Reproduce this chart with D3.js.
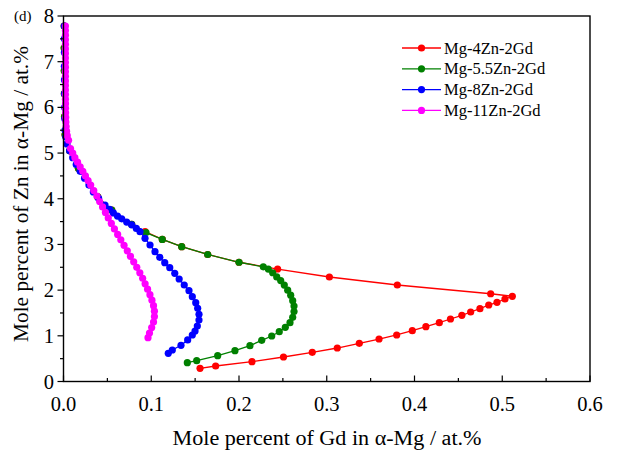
<!DOCTYPE html>
<html><head><meta charset="utf-8">
<script src="https://cdn.jsdelivr.net/npm/d3@7"></script>
<style>body{margin:0;background:#fff}svg{display:block}</style>
</head><body><svg id="c" width="617" height="452" font-family="'Liberation Serif', Tinos, 'Times New Roman', Times, 'DejaVu Serif', serif"></svg>
<script>
const seriesNames = ["Mg-4Zn-2Gd","Mg-5.5Zn-2Gd","Mg-8Zn-2Gd","Mg-11Zn-2Gd"];
const seriesColors = ["#ff0000","#008000","#0000ff","#ff00ff"];
const xTicks = [0,0.1,0.2,0.3,0.4,0.5,0.6];
const yTicks = [0,1,2,3,4,5,6,7,8];

const red_gd = [0.0008,0.0008,0.0009,0.001,0.0012,0.0018,0.007,0.017,0.039,0.055,0.0777,0.093,0.1126,0.1347,0.1643,0.2,0.244,0.303,0.3804,0.4868,0.5115,0.5031,0.494,0.4846,0.4746,0.464,0.454,0.441,0.4283,0.413,0.3975,0.3797,0.3596,0.3371,0.312,0.2835,0.2507,0.2148,0.1734,0.1556];
const red_zn = [7.78,7.3,6.8,6.3,5.8,5.4,5.05,4.67,4.04,3.75,3.44,3.28,3.11,2.95,2.78,2.61,2.462,2.287,2.112,1.921,1.865,1.806,1.733,1.674,1.593,1.521,1.449,1.368,1.287,1.199,1.112,1.018,0.930,0.836,0.733,0.639,0.536,0.433,0.339,0.289];

const green_gd = [0.0008,0.0008,0.0009,0.001,0.0012,0.0018,0.007,0.017,0.039,0.055,0.0777,0.094,0.1126,0.1347,0.1643,0.2,0.2277,0.2334,0.2384,0.243,0.2475,0.2516,0.2555,0.2589,0.2612,0.2627,0.2627,0.2612,0.2581,0.2528,0.2459,0.2373,0.2259,0.2125,0.1954,0.1757,0.1518,0.1411];
const green_zn = [7.78,7.3,6.8,6.3,5.8,5.4,5.05,4.67,4.04,3.75,3.44,3.26,3.11,2.95,2.78,2.61,2.51,2.46,2.38,2.29,2.21,2.11,2.0,1.89,1.77,1.65,1.53,1.405,1.287,1.186,1.09,0.996,0.902,0.784,0.674,0.565,0.455,0.411];

const blue_gd = [0.001,0.001,0.001,0.001,0.0011,0.0012,0.0013,0.0015,0.0018,0.0026,0.004,0.007,0.0105,0.0145,0.019,0.024,0.029,0.034,0.04,0.0473,0.0525,0.0568,0.0615,0.0663,0.072,0.0777,0.083,0.0872,0.0929,0.0986,0.1043,0.1097,0.1154,0.1211,0.1268,0.1318,0.1376,0.143,0.1468,0.1507,0.1529,0.1544,0.1544,0.1525,0.1499,0.1468,0.1415,0.1339,0.124,0.1194];
const blue_zn = [7.78,7.5,7.2,6.9,6.6,6.3,6.0,5.75,5.5,5.35,5.2,5.05,4.9,4.75,4.6,4.45,4.3,4.15,4.01,3.86,3.77,3.69,3.62,3.56,3.49,3.43,3.35,3.28,3.134,2.988,2.841,2.718,2.6,2.491,2.368,2.243,2.112,1.987,1.856,1.725,1.602,1.471,1.346,1.215,1.105,1.018,0.909,0.792,0.689,0.617];

const magenta_gd = [0.0022,0.0022,0.0022,0.0022,0.0022,0.0022,0.0022,0.0022,0.0022,0.0022,0.0022,0.0022,0.0022,0.0022,0.0022,0.0022,0.0022,0.0023,0.0023,0.0024,0.0025,0.0027,0.003,0.0035,0.0043,0.0058,0.008,0.0105,0.013,0.016,0.019,0.022,0.025,0.028,0.031,0.0345,0.038,0.0412,0.0445,0.0478,0.051,0.0545,0.058,0.0617,0.0653,0.069,0.0727,0.0763,0.08,0.0835,0.087,0.0902,0.093,0.0958,0.0985,0.1008,0.1026,0.1036,0.1036,0.1026,0.1005,0.098,0.0963];
const magenta_zn = [7.78,7.68,7.58,7.48,7.38,7.28,7.18,7.08,6.98,6.88,6.78,6.68,6.58,6.48,6.38,6.28,6.18,6.08,5.98,5.88,5.78,5.68,5.58,5.48,5.38,5.28,5.1,5.0,4.9,4.8,4.7,4.6,4.5,4.4,4.3,4.18,4.06,3.94,3.82,3.70,3.58,3.46,3.34,3.22,3.10,2.98,2.86,2.74,2.62,2.50,2.38,2.26,2.14,2.02,1.90,1.78,1.66,1.54,1.42,1.30,1.18,1.06,0.96];
</script>
<script>
const series = [
  {gd: red_gd, zn: red_zn},
  {gd: green_gd, zn: green_zn},
  {gd: blue_gd, zn: blue_zn},
  {gd: magenta_gd, zn: magenta_zn}
];
const svg = d3.select("#c");
const L = 63.5, R = 590, T = 16, B = 381.5;
const x = d3.scaleLinear().domain([0,0.6]).range([L,R]);
const y = d3.scaleLinear().domain([0,8]).range([B,T]);

const line = d3.line().x(d=>x(d[0])).y(d=>y(d[1]));
series.forEach((s,i)=>{
  const n = Math.min(s.gd.length, s.zn.length);
  const pts = d3.range(n).map(k=>[s.gd[k], s.zn[k]]);
  const g = svg.append("g");
  g.append("path").attr("d", line(pts)).attr("fill","none").attr("stroke",seriesColors[i]).attr("stroke-width",1.3);
  g.selectAll("circle").data(pts).join("circle")
    .attr("cx",d=>x(d[0])).attr("cy",d=>y(d[1])).attr("r",3.6).attr("fill",seriesColors[i]);
});

svg.append("rect").attr("x",L).attr("y",T).attr("width",R-L).attr("height",B-T)
  .attr("fill","none").attr("stroke","#000").attr("stroke-width",1.4);

const xMinor = d3.range(0,0.6001,0.05);
svg.append("g").selectAll("line").data(xMinor).join("line")
  .attr("x1",d=>x(d)).attr("x2",d=>x(d)).attr("y1",B)
  .attr("y2",(d,i)=> B - (i%2===0?6:3.5)).attr("stroke","#000").attr("stroke-width",1.2);
svg.append("g").selectAll("text").data(xTicks).join("text")
  .attr("x",d=>x(d)).attr("y",411).attr("text-anchor","middle").attr("font-size",20.5)
  .text(d=>d3.format(".1f")(d));

const yMinor = d3.range(0,8.001,0.5);
svg.append("g").selectAll("line").data(yMinor).join("line")
  .attr("y1",d=>y(d)).attr("y2",d=>y(d)).attr("x1",L)
  .attr("x2",(d,i)=> L - (i%2===0?6:3.5)).attr("stroke","#000").attr("stroke-width",1.2);
svg.append("g").selectAll("text").data(yTicks).join("text")
  .attr("x",54).attr("y",d=>y(d)+7).attr("text-anchor","end").attr("font-size",20.5)
  .text(d=>d);

svg.append("text").attr("x",327).attr("y",445).attr("text-anchor","middle").attr("font-size",20)
  .attr("textLength",309).attr("lengthAdjust","spacingAndGlyphs")
  .text("Mole percent of Gd in α-Mg / at.%");
svg.append("text").attr("transform","translate(28,194) rotate(-90)").attr("text-anchor","middle").attr("font-size",20)
  .attr("textLength",296).attr("lengthAdjust","spacingAndGlyphs")
  .text("Mole percent of Zn in α-Mg / at.%");
svg.append("text").attr("x",14).attr("y",21).attr("font-size",15).text("(d)");

const lg = svg.append("g");
seriesNames.forEach((nm,i)=>{
  const yy = 48 + i*20.8;
  lg.append("line").attr("x1",402).attr("x2",441).attr("y1",yy).attr("y2",yy).attr("stroke",seriesColors[i]).attr("stroke-width",1.3);
  lg.append("circle").attr("cx",421.5).attr("cy",yy).attr("r",3.6).attr("fill",seriesColors[i]);
  lg.append("text").attr("x",444).attr("y",yy+5.5).attr("font-size",16.5).text(nm);
});
</script>
</body></html>
